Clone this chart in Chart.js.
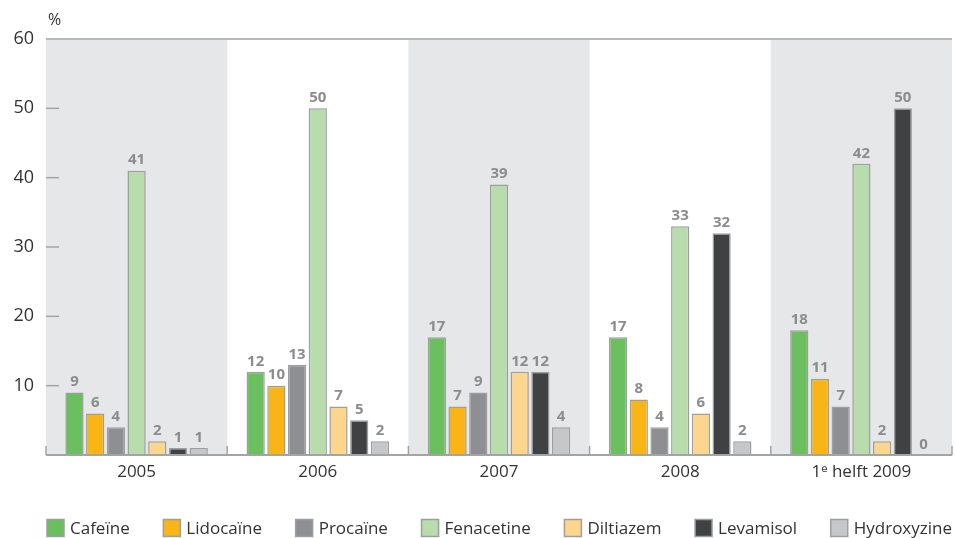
<!DOCTYPE html>
<html>
<head>
<meta charset="utf-8">
<script src="https://cdn.jsdelivr.net/npm/chart.js@4/dist/chart.umd.min.js"></script>
<style>
html,body{margin:0;padding:0;background:#fff;}
#wrap{width:955px;height:538px;position:relative;}
</style>
</head>
<body>
<div id="wrap"><canvas id="c"></canvas></div>
<script>
const categories = ["2005", "2006", "2007", "2008", "1\u1D49 helft 2009"];
const seriesNames = ["Cafeïne", "Lidocaïne", "Procaïne", "Fenacetine", "Diltiazem", "Levamisol", "Hydroxyzine"];
const cafeine     = [9, 12, 17, 17, 18];
const lidocaine   = [6, 10, 7, 8, 11];
const procaine    = [4, 13, 9, 4, 7];
const fenacetine  = [41, 50, 39, 33, 42];
const diltiazem   = [2, 7, 12, 6, 2];
const levamisol   = [1, 5, 12, 32, 50];
const hydroxyzine = [1, 2, 4, 2, 0];
const yTicks = [10, 20, 30, 40, 50, 60];
const seriesColors = ["#6cbf5f", "#f9b515", "#8e8f92", "#b9dcac", "#fdd68d", "#404143", "#c6c7c9"];

const allSeries = [cafeine, lidocaine, procaine, fenacetine, diltiazem, levamisol, hydroxyzine];
const FONT = "'Open Sans', 'Noto Sans', sans-serif";

const decorPlugin = {
  id: 'decor',
  beforeDatasetsDraw(chart) {
    const {ctx, chartArea, scales: {x, y}} = chart;
    const n = categories.length;
    const w = (chartArea.right - chartArea.left) / n;
    ctx.save();
    ctx.fillStyle = '#e6e7e9';
    for (let i = 0; i < n; i += 2) {
      const cx = x.getPixelForValue(i);
      ctx.fillRect(cx - w / 2, y.getPixelForValue(60), w, y.getPixelForValue(0) - y.getPixelForValue(60));
    }
    ctx.strokeStyle = '#b7b8ba';
    ctx.lineWidth = 2;
    ctx.beginPath();
    const yt = y.getPixelForValue(60);
    ctx.moveTo(chartArea.left, yt); ctx.lineTo(chartArea.right, yt);
    ctx.stroke();
    ctx.strokeStyle = '#a3a4a6';
    ctx.lineWidth = 1.5;
    yTicks.forEach(v => {
      if (v === 60) return;
      const py = y.getPixelForValue(v);
      ctx.beginPath();
      ctx.moveTo(chartArea.left, py); ctx.lineTo(chartArea.left + 13, py);
      ctx.stroke();
    });
    const yb = y.getPixelForValue(0);
    for (let i = 0; i <= n; i++) {
      const bx = chartArea.left + i * w;
      ctx.beginPath();
      ctx.moveTo(bx, yb); ctx.lineTo(bx, yb - 9);
      ctx.stroke();
    }
    ctx.restore();
  },
  afterDatasetsDraw(chart) {
    const {ctx, chartArea, scales: {x, y}} = chart;
    ctx.save();
    ctx.strokeStyle = '#a3a4a6';
    ctx.lineWidth = 2;
    const yb = y.getPixelForValue(0);
    ctx.beginPath();
    ctx.moveTo(chartArea.left, yb); ctx.lineTo(chartArea.right, yb);
    ctx.stroke();
    ctx.font = "bold 15px " + FONT;
    ctx.fillStyle = '#8b8c8e';
    ctx.textAlign = 'center';
    ctx.textBaseline = 'bottom';
    chart.data.datasets.forEach((ds, di) => {
      const meta = chart.getDatasetMeta(di);
      meta.data.forEach((bar, i) => {
        ctx.fillText(String(ds.data[i]), bar.x, bar.y - 3);
      });
    });
    ctx.font = "16px " + FONT;
    ctx.fillStyle = '#333';
    ctx.textAlign = 'left';
    ctx.textBaseline = 'middle';
    ctx.fillText('%', chartArea.left + 2, y.getPixelForValue(60) - 19);
    ctx.restore();
  },
  afterDraw(chart) {
    const {ctx, chartArea} = chart;
    const ds = chart.data.datasets;
    ctx.save();
    ctx.font = "17px " + FONT;
    const box = 17, gapText = 6;
    const widths = ds.map(d => box + gapText + ctx.measureText(d.label).width);
    const total = widths.reduce((a, b) => a + b, 0);
    const left = chartArea.left + 1, right = chartArea.right;
    const gap = (right - left - total) / (ds.length - 1);
    const cy = 528;
    let xPos = left;
    ctx.textBaseline = 'middle';
    ctx.textAlign = 'left';
    ds.forEach((d, i) => {
      ctx.fillStyle = d.backgroundColor;
      ctx.fillRect(xPos, cy - box / 2, box, box);
      ctx.strokeStyle = d.borderColor;
      ctx.lineWidth = 1.5;
      ctx.strokeRect(xPos, cy - box / 2, box, box);
      ctx.fillStyle = '#333';
      ctx.fillText(d.label, xPos + box + gapText, cy + 1);
      xPos += widths[i] + gap;
    });
    ctx.restore();
  }
};

new Chart(document.getElementById('c'), {
  type: 'bar',
  data: {
    labels: categories,
    datasets: seriesNames.map((name, i) => ({
      label: name,
      data: allSeries[i],
      backgroundColor: seriesColors[i],
      borderColor: '#9d9ea0',
      borderWidth: 1.5,
      categoryPercentage: 0.8,
      barPercentage: 0.88
    }))
  },
  options: {
    responsive: true,
    maintainAspectRatio: false,
    animation: false,
    layout: { padding: { top: 39, right: 3, left: 0, bottom: 53 } },
    plugins: {
      tooltip: { enabled: false },
      legend: { display: false }
    },
    scales: {
      x: {
        grid: { display: false, drawTicks: false },
        border: { display: false },
        ticks: { color: '#333', font: { family: FONT, size: 17 }, padding: 7 },
        afterFit(s) { s.height = 30; }
      },
      y: {
        min: 0, max: 60,
        grid: { display: false, drawTicks: false },
        border: { display: false },
        afterBuildTicks(s) { s.ticks = [0].concat(yTicks).map(v => ({ value: v })); },
        ticks: {
          color: '#333', font: { family: FONT, size: 18 }, padding: 12,
          callback: v => (v === 0 ? '' : v)
        },
        afterFit(s) { s.width = 46; }
      }
    }
  },
  plugins: [decorPlugin]
});
</script>
</body>
</html>
